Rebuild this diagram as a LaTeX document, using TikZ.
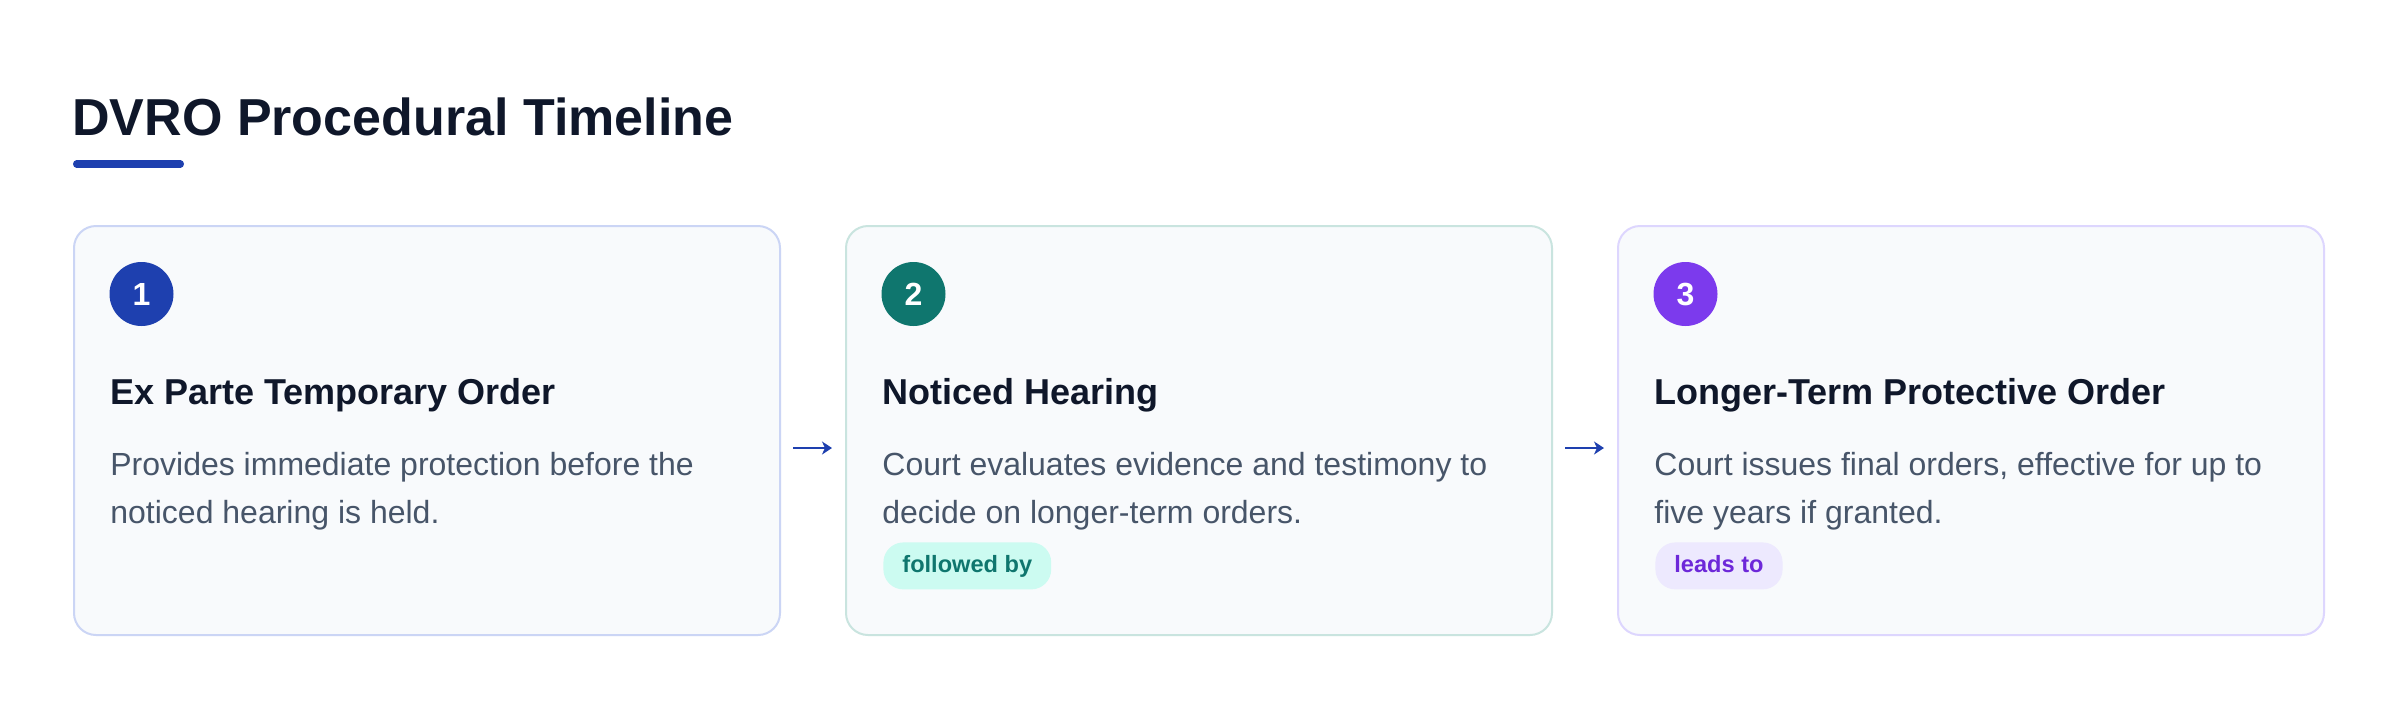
\documentclass[tikz,border=0pt]{standalone}
\usepackage{fontspec}
\setmainfont{Liberation Sans}
\usetikzlibrary{arrows.meta}
\definecolor{ink}{HTML}{0F172A}
\definecolor{body}{HTML}{475569}
\definecolor{blue8}{HTML}{1E40AF}
\definecolor{teal7}{HTML}{0F766E}
\definecolor{violet6}{HTML}{7C3AED}
\definecolor{cardfill}{HTML}{F8FAFC}
\definecolor{bd1}{HTML}{CBD5F5}
\definecolor{bd2}{HTML}{C9E4DF}
\definecolor{bd3}{HTML}{DDD6FE}
\definecolor{tealbg}{HTML}{CCFBF1}
\definecolor{violetbg}{HTML}{EDE9FE}
\definecolor{violettx}{HTML}{6D28D9}
\begin{document}
\begin{tikzpicture}[x=0.5pt,y=-0.5pt,
 card/.style={draw, line width=1pt, fill=cardfill, rounded corners=11pt, minimum width=353pt, minimum height=204.5pt, inner sep=0pt, anchor=north west},
 numdot/.style={circle, minimum size=32pt, inner sep=0pt, text=white, font=\bfseries\fontsize{16}{16}\selectfont},
 heading/.style={anchor=base west, inner sep=0pt, text=ink, font=\bfseries\fontsize{18}{22}\selectfont},
 desc/.style={anchor=base west, inner sep=0pt, text=body, font=\fontsize{16}{24}\selectfont},
 badge/.style={anchor=north west, rounded corners=10pt, minimum height=23.5pt, inner xsep=9.5pt, inner ysep=0pt, text height=9pt, text depth=2.5pt, font=\bfseries\fontsize{11.8}{12}\selectfont},
 flow/.style={draw=blue8, line width=1pt, -{Stealth[length=5pt,width=6.5pt,inset=1.5pt]}, shorten <=6pt, shorten >=6.5pt}
]
\useasboundingbox[fill=white] (0,0) rectangle (2400,708);

\node[anchor=base west, inner sep=0pt, text=ink, font=\bfseries\fontsize{26}{30}\selectfont] (title) at (72,135) {DVRO Procedural Timeline};
\draw[blue8, line width=3.75pt, line cap=round] (76.75,164) -- (180.25,164);

% cards
\node[card, draw=bd1] (c1) at (73,225) {};
\node[card, draw=bd2] (c2) at (845,225) {};
\node[card, draw=bd3] (c3) at (1617,225) {};

% number dots
\node[numdot, fill=blue8] (n1) at (141.5,294) {1};
\node[numdot, fill=teal7] (n2) at (913.5,294) {2};
\node[numdot, fill=violet6] (n3) at (1685.5,294) {3};

% headings
\node[heading] (h1) at (110,404) {Ex Parte Temporary Order};
\node[heading] (h2) at (882,404) {Noticed Hearing};
\node[heading] (h3) at (1654,404) {Longer-Term Protective Order};

% descriptions
\node[desc] (d1a) at (110,475) {Provides immediate protection before the};
\node[desc] (d1b) at (110,523) {noticed hearing is held.};
\node[desc] (d2a) at (882,475) {Court evaluates evidence and testimony to};
\node[desc] (d2b) at (882,523) {decide on longer-term orders.};
\node[desc] (d3a) at (1654,475) {Court issues final orders, effective for up to};
\node[desc] (d3b) at (1654,523) {five years if granted.};

% badges
\node[badge, fill=tealbg, text=teal7] (b2) at (883,542) {followed by};
\node[badge, fill=violetbg, text=violettx] (b3) at (1655,542) {leads to};

% connectors
\draw[flow] ([yshift=-8.75pt]c1.east) -- ([yshift=-8.75pt]c2.west);
\draw[flow] ([yshift=-8.75pt]c2.east) -- ([yshift=-8.75pt]c3.west);
\end{tikzpicture}
\end{document}
